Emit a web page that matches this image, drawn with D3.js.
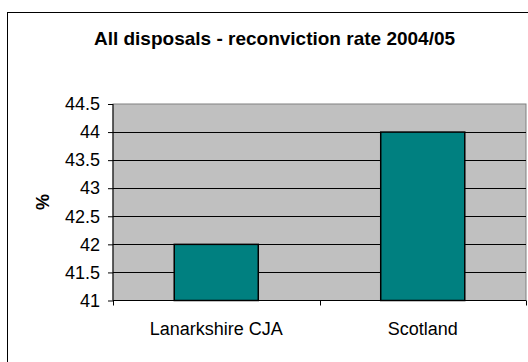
<!DOCTYPE html>
<html>
<head>
<meta charset="utf-8">
<script src="https://cdn.jsdelivr.net/npm/d3@7"></script>
<style>
  body { margin: 0; background: #fff; }
  svg { display: block; font-family: "Liberation Sans", Arial, sans-serif; }
</style>
</head>
<body>
<div id="chart"></div>
<script>
// chart data
const categories = ["Lanarkshire CJA", "Scotland"];
const rates = [42, 44];
const yTicks = [41, 41.5, 42, 42.5, 43, 43.5, 44, 44.5];
const title = "All disposals - reconviction rate 2004/05";

const width = 528, height = 362;
const plot = { left: 113, right: 526, top: 104, bottom: 300.5 };

const svg = d3.select("#chart")
  .append("svg")
  .attr("width", width)
  .attr("height", height);

// outer chart border (runs off the right/bottom of the picture)
svg.append("rect")
  .attr("x", 7.5)
  .attr("y", 12.5)
  .attr("width", 560)
  .attr("height", 400)
  .attr("fill", "#fff")
  .attr("stroke", "#000");

svg.append("text")
  .attr("x", 274.5)
  .attr("y", 45)
  .attr("text-anchor", "middle")
  .attr("font-weight", "bold")
  .attr("font-size", 19)
  .text(title);

const y = d3.scaleLinear()
  .domain([41, 44.5])
  .range([plot.bottom, plot.top]);

// category bands (axis dividers) and bars inside them
const band = d3.scaleBand()
  .domain(categories)
  .range([plot.left, plot.right]);

const x = d3.scaleBand()
  .domain(categories)
  .range([plot.left, plot.right])
  .paddingInner(0.593)
  .paddingOuter(0.2965);

// plot area
svg.append("rect")
  .attr("x", plot.left)
  .attr("y", plot.top)
  .attr("width", plot.right - plot.left)
  .attr("height", plot.bottom - plot.top)
  .attr("fill", "#c0c0c0")
  .attr("stroke", "#808080");

// gridlines
svg.append("g")
  .selectAll("line")
  .data(yTicks.slice(1, -1))
  .enter()
  .append("line")
  .attr("x1", plot.left)
  .attr("x2", plot.right)
  .attr("y1", d => Math.round(y(d)) + 0.5)
  .attr("y2", d => Math.round(y(d)) + 0.5)
  .attr("stroke", "#000");

svg.selectAll(".bar")
  .data(rates)
  .enter()
  .append("rect")
  .attr("class", "bar")
  .attr("x", (d, i) => x(categories[i]))
  .attr("y", d => y(d))
  .attr("width", x.bandwidth())
  .attr("height", d => y(41) - y(d))
  .attr("fill", "#008080")
  .attr("stroke", "#000")
  .attr("stroke-width", 1.5);

// y axis
const yAxis = svg.append("g")
  .attr("transform", `translate(${plot.left},0)`)
  .call(d3.axisLeft(y).tickValues(yTicks).tickSize(5).tickPadding(8).tickFormat(d3.format("~g")));
yAxis.select(".domain").attr("stroke", "#000").attr("d", `M0,${plot.top}V${plot.bottom}`);
yAxis.selectAll("text")
  .attr("font-size", 18)
  .attr("font-family", "Liberation Sans, Arial, sans-serif")
  .attr("fill", "#000");

// x axis: labels centred in each band, dividers between bands
const xAxis = svg.append("g")
  .attr("transform", `translate(0,${plot.bottom})`)
  .call(d3.axisBottom(band).tickSize(0).tickPadding(22));
xAxis.select(".domain").attr("stroke", "#000").attr("d", `M${plot.left},0H${plot.right}`);
xAxis.selectAll("text")
  .attr("font-size", 18)
  .attr("font-family", "Liberation Sans, Arial, sans-serif")
  .attr("fill", "#000");

const dividers = categories.map(c => band(c)).concat([band(categories[categories.length - 1]) + band.bandwidth()]);
xAxis.selectAll(".divider")
  .data(dividers)
  .enter()
  .append("line")
  .attr("class", "divider")
  .attr("x1", d => Math.round(d) + 0.5)
  .attr("x2", d => Math.round(d) + 0.5)
  .attr("y1", 0)
  .attr("y2", 5)
  .attr("stroke", "#000");

svg.append("text")
  .attr("transform", "translate(49,202) rotate(-90)")
  .attr("text-anchor", "middle")
  .attr("font-weight", "bold")
  .attr("font-size", 18)
  .text("%");
</script>
</body>
</html>
